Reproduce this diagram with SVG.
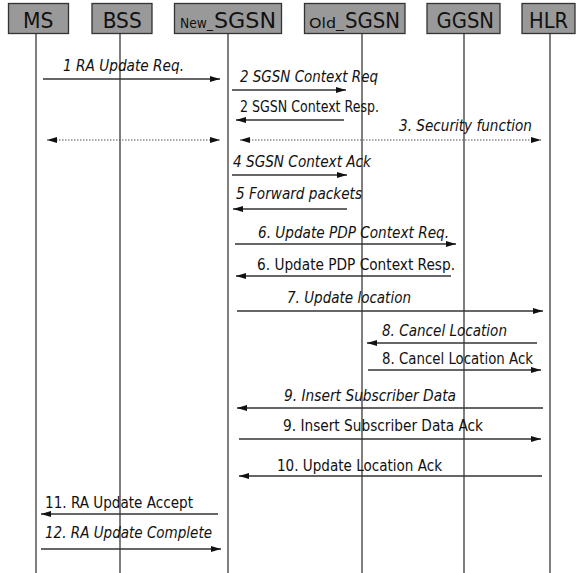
<svg xmlns="http://www.w3.org/2000/svg" width="576" height="573" viewBox="0 0 576 573">
<defs>
<marker id="ah" viewBox="0 0 10 6" refX="10" refY="3" markerWidth="10" markerHeight="6" markerUnits="userSpaceOnUse" orient="auto-start-reverse">
<path d="M0,0 L10,3 L0,6 Z" fill="#111"/>
</marker>
</defs>
<style>
.box{fill:#999999;stroke:#333;stroke-width:1.3}
.hd{font-family:"DejaVu Sans Condensed","DejaVu Sans",sans-serif;font-size:22px;fill:#111}
.sm{font-family:"DejaVu Sans Condensed","DejaVu Sans",sans-serif;font-size:14px;fill:#111}
.life{stroke:#3a3a3a;stroke-width:1.3;fill:none}
.msg{stroke:#333;stroke-width:1.3;fill:none;marker-end:url(#ah)}
.dot{stroke:#555;stroke-width:1;stroke-dasharray:1.5 1.5;fill:none;marker-start:url(#ah);marker-end:url(#ah)}
.lb{font-family:"DejaVu Sans Condensed","DejaVu Sans",sans-serif;font-size:15px;fill:#111}
.it{font-style:italic}
</style>
<rect width="576" height="573" fill="#fff"/>
<g id="lifelines">
<line class="life" x1="36" y1="33" x2="36" y2="573"/>
<line class="life" x1="120" y1="33" x2="120" y2="573"/>
<line class="life" x1="228" y1="33" x2="228" y2="573"/>
<line class="life" x1="362" y1="33" x2="362" y2="573"/>
<line class="life" x1="464" y1="33" x2="464" y2="573"/>
<line class="life" x1="550" y1="33" x2="550" y2="573"/>
</g>
<g id="node-MS">
<rect class="box" x="8.5" y="3.5" width="60" height="30"/>
<text class="hd" x="23" y="28" textLength="30.5" lengthAdjust="spacingAndGlyphs">MS</text>
</g>
<g id="node-BSS">
<rect class="box" x="92" y="3.5" width="60" height="30"/>
<text class="hd" x="102.7" y="28" textLength="39" lengthAdjust="spacingAndGlyphs">BSS</text>
</g>
<g id="node-New_SGSN">
<rect class="box" x="174.5" y="3.5" width="107" height="30"/>
<text class="sm" x="180" y="28" textLength="33" lengthAdjust="spacingAndGlyphs">New_</text>
<text class="hd" x="214" y="28" textLength="62" lengthAdjust="spacingAndGlyphs">SGSN</text>
</g>
<g id="node-Old_SGSN">
<rect class="box" x="304.5" y="3.5" width="100.5" height="30"/>
<text class="sm" x="309" y="28" textLength="35" lengthAdjust="spacingAndGlyphs">Old_</text>
<text class="hd" x="345" y="28" textLength="55" lengthAdjust="spacingAndGlyphs">SGSN</text>
</g>
<g id="node-GGSN">
<rect class="box" x="427" y="3.5" width="73" height="30"/>
<text class="hd" x="436.5" y="28" textLength="57.5" lengthAdjust="spacingAndGlyphs">GGSN</text>
</g>
<g id="node-HLR">
<rect class="box" x="522" y="3.5" width="53" height="30"/>
<text class="hd" x="529" y="28" textLength="39" lengthAdjust="spacingAndGlyphs">HLR</text>
</g>
<g id="connectors">
<line class="msg" x1="43" y1="79" x2="220" y2="79"/>
<line class="msg" x1="232" y1="90" x2="346" y2="90"/>
<line class="msg" x1="344" y1="120" x2="236" y2="120"/>
<line class="dot" x1="47" y1="140" x2="220" y2="140"/>
<line class="dot" x1="240" y1="140" x2="541" y2="140"/>
<line class="msg" x1="232" y1="175" x2="347" y2="175"/>
<line class="msg" x1="347" y1="209" x2="233" y2="209"/>
<line class="msg" x1="235" y1="244" x2="456" y2="244"/>
<line class="msg" x1="451" y1="276" x2="236" y2="276"/>
<line class="msg" x1="237" y1="311" x2="543" y2="311"/>
<line class="msg" x1="537" y1="343" x2="367" y2="343"/>
<line class="msg" x1="368" y1="370" x2="541" y2="370"/>
<line class="msg" x1="543" y1="408" x2="237" y2="408"/>
<line class="msg" x1="239" y1="439" x2="541" y2="439"/>
<line class="msg" x1="542" y1="476" x2="239" y2="476"/>
<line class="msg" x1="218" y1="514" x2="41" y2="514"/>
<line class="msg" x1="41" y1="549" x2="221" y2="549"/>
</g>
<g id="labels">
<text class="lb it" x="63" y="71" textLength="121" lengthAdjust="spacingAndGlyphs">1 RA Update Req.</text>
<text class="lb it" x="240" y="82" textLength="138" lengthAdjust="spacingAndGlyphs">2 SGSN Context Req</text>
<text class="lb" x="240" y="112" textLength="139" lengthAdjust="spacingAndGlyphs">2 SGSN Context Resp.</text>
<text class="lb it" x="399" y="131" textLength="133" lengthAdjust="spacingAndGlyphs">3. Security function</text>
<text class="lb it" x="233" y="167" textLength="138" lengthAdjust="spacingAndGlyphs">4 SGSN Context Ack</text>
<text class="lb it" x="236" y="199" textLength="126" lengthAdjust="spacingAndGlyphs">5 Forward packets</text>
<text class="lb it" x="258" y="238" textLength="191" lengthAdjust="spacingAndGlyphs">6. Update PDP Context Req.</text>
<text class="lb" x="257" y="270" textLength="198" lengthAdjust="spacingAndGlyphs">6. Update PDP Context Resp.</text>
<text class="lb it" x="287" y="303" textLength="124" lengthAdjust="spacingAndGlyphs">7. Update location</text>
<text class="lb it" x="382" y="336" textLength="125" lengthAdjust="spacingAndGlyphs">8. Cancel Location</text>
<text class="lb" x="382" y="364" textLength="151" lengthAdjust="spacingAndGlyphs">8. Cancel Location Ack</text>
<text class="lb it" x="284" y="401" textLength="172" lengthAdjust="spacingAndGlyphs">9. Insert Subscriber Data</text>
<text class="lb" x="283" y="431" textLength="200" lengthAdjust="spacingAndGlyphs">9. Insert Subscriber Data Ack</text>
<text class="lb" x="277" y="471" textLength="165" lengthAdjust="spacingAndGlyphs">10. Update Location Ack</text>
<text class="lb" x="45" y="508" textLength="148" lengthAdjust="spacingAndGlyphs">11. RA Update Accept</text>
<text class="lb it" x="45" y="538" textLength="167" lengthAdjust="spacingAndGlyphs">12. RA Update Complete</text>
</g>
</svg>
